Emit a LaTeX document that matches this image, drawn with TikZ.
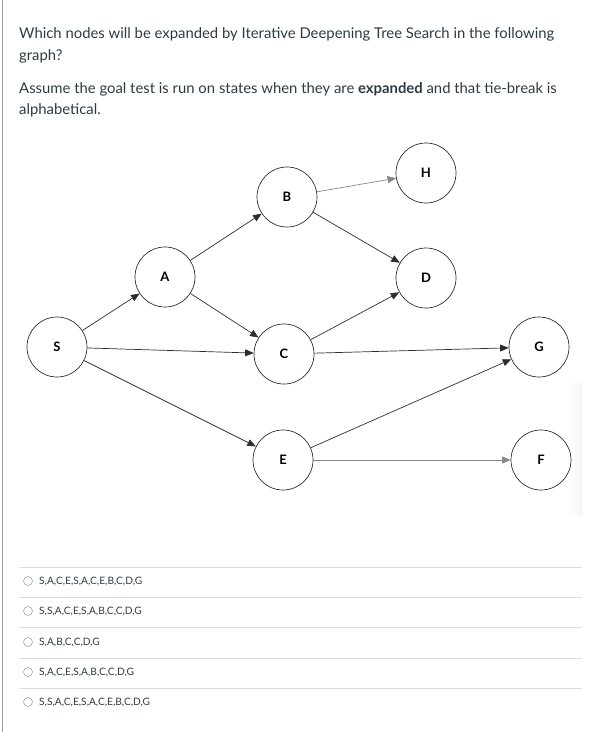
\documentclass[tikz,border=0pt]{standalone}
\usepackage{fontspec}
\setmainfont{Lato}
\usepackage{tikz}
\usetikzlibrary{arrows.meta, positioning}
\definecolor{canvasText}{RGB}{45,59,69}
\definecolor{edgeDark}{RGB}{45,45,45}
\definecolor{edgeLight}{RGB}{135,135,135}
\definecolor{ruleGray}{RGB}{221,221,221}
\definecolor{frameGray}{RGB}{160,160,160}

\begin{document}
\begin{tikzpicture}[x=1pt,y=-1pt,
  vtx/.style={circle,draw=edgeDark,line width=0.7pt,minimum size=60pt,
    inner sep=0pt,font=\fontsize{13}{13}\selectfont\bfseries},
  link/.style={edgeDark,line width=0.7pt,-{Triangle[length=8.5pt,width=7pt]}},
  faint/.style={link,draw=edgeLight},
  qline/.style={anchor=base west,inner sep=0pt,text=canvasText,
    font=\fontsize{14.85}{18}\selectfont},
  answer/.style={anchor=west,inner sep=0pt,text=canvasText,
    font=\fontsize{10.2}{12}\selectfont}
]
  \useasboundingbox (0,0) rectangle (593,732);
  \draw[frameGray,line width=1pt] (2.5,0) -- (2.5,732);

  % question
  \node[qline] (q1) at (19,38) {Which nodes will be expanded by Iterative Deepening Tree Search in the following};
  \node[qline] (q2) at (19,60) {graph?};
  \node[qline] (q3) at (19,93) {Assume the goal test is run on states when they are \textbf{expanded} and that tie-break is};
  \node[qline] (q4) at (19,114) {alphabetical.};

  % graph
  \shade[left color=white,right color=black!4] (567,383) rectangle (582,515);
  \node[vtx] (S) at (57,347) {S};
  \node[vtx] (A) at (165,277) {A};
  \node[vtx] (B) at (287,197) {B};
  \node[vtx] (C) at (284,354) {C};
  \node[vtx] (E) at (283,460) {E};
  \node[vtx] (H) at (426,173) {H};
  \node[vtx] (D) at (426,278) {D};
  \node[vtx] (G) at (539,347) {G};
  \node[vtx] (F) at (541,460) {F};

  \draw[link] (S) -- (A);
  \draw[link] (S) -- (C);
  \draw[link] (S) -- (E);
  \draw[link] (A) -- (B);
  \draw[link] (A) -- (C);
  \draw[faint] (B) -- (H);
  \draw[link] (B) -- (D);
  \draw[link] (C) -- (D);
  \draw[link] (C) -- (G);
  \draw[link] (E) -- (G);
  \draw[faint] (E) -- (F);

  % answers
  \foreach \y in {567,597,627,658,688}
    \draw[ruleGray,line width=1pt] (19,\y) -- (582,\y);
  \foreach \i/\y/\txt in {1/581/{S,A,C,E,S,A,C,E,B,C,D,G},
                          2/611/{S,S,A,C,E,S,A,B,C,C,D,G},
                          3/642/{S,A,B,C,C,D,G},
                          4/672/{S,A,C,E,S,A,B,C,C,D,G},
                          5/702/{S,S,A,C,E,S,A,C,E,B,C,D,G}} {
    \draw[gray!70,line width=0.6pt] (28,\y) circle (4.5);
    \node[answer] (opt\i) at (39,\y) {\txt};
  }
\end{tikzpicture}
\end{document}
